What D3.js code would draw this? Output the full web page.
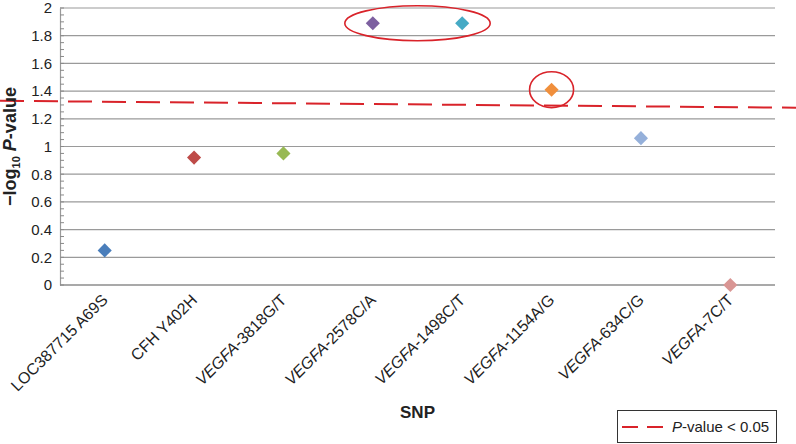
<!DOCTYPE html>
<html><head><meta charset="utf-8">
<script src="https://cdn.jsdelivr.net/npm/d3@7"></script>
<style>body{margin:0;background:#fff}svg{display:block;font-family:"Liberation Sans",Arial,sans-serif}</style>
</head><body><svg id="c" width="796" height="444"></svg>
<script>
const snps = ["LOC387715 A69S","CFH Y402H","VEGFA-3818G/T","VEGFA-2578C/A","VEGFA-1498C/T","VEGFA-1154A/G","VEGFA-634C/G","VEGFA-7C/T"];
const values = [0.25, 0.92, 0.95, 1.89, 1.89, 1.41, 1.06, 0.0];
const colors = ["#4a7ebb","#be4b48","#98b954","#7d60a0","#46aac5","#f08f3c","#95b0da","#d99694"];
const yTicks = [0,0.2,0.4,0.6,0.8,1,1.2,1.4,1.6,1.8,2];
const thresholdLeft = 1.33, thresholdRight = 1.28; // drawn -log10(0.05) line (slightly tilted in original)
const circled = [["VEGFA-2578C/A","VEGFA-1498C/T"],["VEGFA-1154A/G"]];

const svg = d3.select("#c");
const L = 60, R = 775, T = 8, B = 285;
const x = d3.scaleBand().domain(snps).range([L, R]);
const y = d3.scaleLinear().domain([0, 2]).range([B, T]);

// gridlines
svg.append("g").selectAll("line").data(yTicks.filter(d => d > 0)).join("line")
  .attr("x1", L).attr("x2", R).attr("y1", d => y(d)).attr("y2", d => y(d))
  .attr("stroke", "#9a9a9a").attr("stroke-width", 1.2);

// y axis
const yAxis = d3.axisLeft(y).tickValues(yTicks).tickSize(0).tickPadding(8).tickFormat(d3.format("~g"));
const gy = svg.append("g").attr("transform", `translate(${L},0)`).call(yAxis);
gy.select(".domain").attr("stroke", "#9a9a9a").attr("stroke-width", 1.2);
gy.selectAll("text").attr("font-size", 15).attr("fill", "#222").attr("font-family", "Liberation Sans, Arial, sans-serif");
// minor ticks
const minor = d3.range(0, 2.0001, 0.05);
svg.append("g").selectAll("line").data(minor).join("line")
  .attr("x1", L).attr("x2", L + 4).attr("y1", d => y(d)).attr("y2", d => y(d))
  .attr("stroke", "#8a8a8a").attr("stroke-width", 1);

// baseline
svg.append("line").attr("x1", L).attr("x2", R).attr("y1", y(0)).attr("y2", y(0))
  .attr("stroke", "#8c8c8c").attr("stroke-width", 1.5);

// x labels
const xl = svg.append("g").selectAll("text").data(snps).join("text")
  .attr("transform", d => `translate(${x(d) + x.bandwidth()/2 + 4},${B + 16}) rotate(-45)`)
  .attr("text-anchor", "end").attr("font-size", 16).attr("fill", "#222");
xl.each(function(d) {
  const t = d3.select(this);
  if (d.startsWith("VEGFA")) {
    t.append("tspan").attr("font-style", "italic").text("VEGFA");
    t.append("tspan").text(d.slice(5));
  } else t.text(d);
});

// threshold line
svg.append("line").attr("x1", 0).attr("x2", 796)
  .attr("y1", y(thresholdLeft)).attr("y2", y(thresholdRight))
  .attr("stroke", "#d9232a").attr("stroke-width", 2).attr("stroke-dasharray", "24 10");

// points
svg.append("g").selectAll("path").data(snps).join("path")
  .attr("d", d3.symbol(d3.symbolSquare, 100)())
  .attr("transform", (d, i) => `translate(${x(d) + x.bandwidth()/2},${y(values[i])}) rotate(45)`)
  .attr("fill", (d, i) => colors[i]);

// highlight ellipses
circled.forEach(group => {
  const xs = group.map(g => x(g) + x.bandwidth()/2);
  const vs = group.map(g => values[snps.indexOf(g)]);
  const cx = d3.mean(xs), cy = y(d3.mean(vs));
  const rx = (d3.max(xs) - d3.min(xs)) / 2 + 28 - (group.length === 1 ? 6 : 0);
  const ry = group.length === 1 ? 18 : 17.5;
  svg.append("ellipse").attr("cx", cx).attr("cy", cy).attr("rx", rx).attr("ry", ry)
    .attr("fill", "none").attr("stroke", "#d9232a").attr("stroke-width", 1.6);
});

// y title
const yt = svg.append("text").attr("transform", `translate(16,${(T + B) / 2}) rotate(-90)`)
  .attr("text-anchor", "middle").attr("font-size", 18).attr("font-weight", "bold").attr("fill", "#222");
yt.append("tspan").text("\u2212log");
yt.append("tspan").attr("font-size", 11).attr("dy", 4).text("10");
yt.append("tspan").attr("dy", -4).text(" ");
yt.append("tspan").attr("font-style", "italic").text("P");
yt.append("tspan").text("-value");

// x title
svg.append("text").attr("x", (L + R) / 2).attr("y", 418).attr("text-anchor", "middle")
  .attr("font-size", 17).attr("font-weight", "bold").attr("fill", "#222").text("SNP");

// legend
const lg = svg.append("g");
lg.append("rect").attr("x", 617.5).attr("y", 410.5).attr("width", 159).attr("height", 32)
  .attr("fill", "#fff").attr("stroke", "#333").attr("stroke-width", 1);
lg.append("line").attr("x1", 622).attr("x2", 666).attr("y1", 427).attr("y2", 427)
  .attr("stroke", "#d9232a").attr("stroke-width", 2).attr("stroke-dasharray", "16 9");
const lt = lg.append("text").attr("x", 672).attr("y", 432).attr("font-size", 15).attr("fill", "#222");
lt.append("tspan").attr("font-style", "italic").text("P");
lt.append("tspan").text("-value < 0.05");
</script></body></html>
